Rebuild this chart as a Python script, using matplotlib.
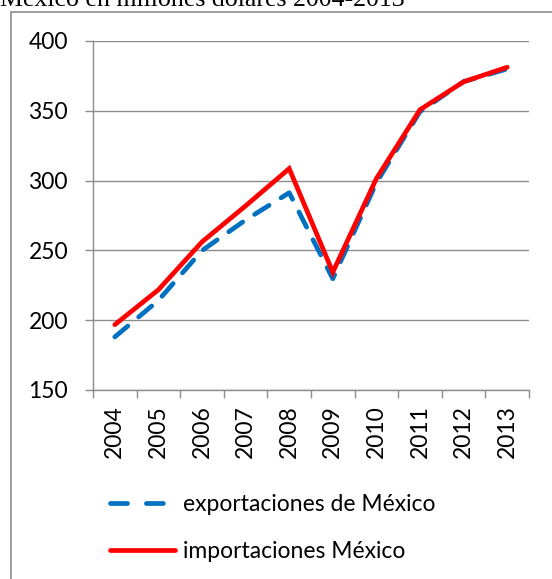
import matplotlib
matplotlib.use('Agg')
import matplotlib.pyplot as plt
from matplotlib.patches import Rectangle
from matplotlib.lines import Line2D

years = ['2004', '2005', '2006', '2007', '2008', '2009', '2010', '2011', '2012', '2013']
exportaciones = [188.0, 214.2, 249.9, 271.8, 291.3, 229.7, 298.5, 349.4, 370.9, 380.0]
importaciones = [196.8, 221.8, 256.1, 281.9, 308.6, 234.4, 301.5, 350.8, 370.8, 381.2]
labels = ['exportaciones de México', 'importaciones México']
title = 'México en millones dólares 2004-2013'

W, H = 552, 579
fig = plt.figure(figsize=(W/100, H/100), dpi=100)

# outer gray frame (cut at right/bottom)
fig.patches.append(Rectangle((11/W, -0.1), 1.2, 1 - 11.5/H + 0.1, transform=fig.transFigure,
                             fill=False, edgecolor='#8c8c8c', linewidth=1.2))

# title, partly cut off at the top
fig.text(0/W, 1 - 6/H, title, family='Liberation Serif', fontsize=18.6,
         ha='left', va='baseline')

ax = fig.add_axes([93/W, 1 - 390/H, (529-93)/W, (390-41)/H])
x = list(range(len(years)))
ax.plot(x, exportaciones, color='#0070C0', lw=3.4, dashes=(3.6, 3.0),
        dash_capstyle='round', solid_capstyle='round')
ax.plot(x, importaciones, color='#FF0000', lw=3.4, solid_capstyle='round',
        solid_joinstyle='miter')

ax.set_ylim(150, 400)
ax.set_xlim(-0.5, len(years) - 0.5)
ax.set_yticks([150, 200, 250, 300, 350, 400])
ax.set_xticks(x)
ax.set_xticklabels(years, rotation=90)
ax.set_xticks([i - 0.5 for i in range(len(years) + 1)], minor=True)
ax.tick_params(axis='x', which='major', length=0, pad=11, labelsize=16.5)
ax.tick_params(axis='x', which='minor', length=6, color='#8c8c8c', width=1)
ax.tick_params(axis='y', length=6, color='#8c8c8c', width=1, pad=12, labelsize=16.5)
for lab in ax.get_xticklabels() + ax.get_yticklabels():
    lab.set_family('Lato')
ax.grid(axis='y', color='#8c8c8c', lw=1)
ax.set_axisbelow(True)
for s in ['top', 'right']:
    ax.spines[s].set_visible(False)
for s in ['left', 'bottom']:
    ax.spines[s].set_color('#8c8c8c')
    ax.spines[s].set_linewidth(1)

# legend handles: two dashes for exports, like the reference
h_exp = Line2D([], [], color='#0070C0', lw=3.4, dashes=(3.6, 4.0), dash_capstyle='round')
h_imp = Line2D([], [], color='#FF0000', lw=3.4, solid_capstyle='round')
fig.legend([h_exp, h_imp], labels, loc='upper left', bbox_to_anchor=(110/W, 1 - 494/H),
           frameon=False, borderpad=0, borderaxespad=0,
           handlelength=2.85, handletextpad=0.35, labelspacing=1.15,
           prop={'family': 'Lato', 'size': 16.5})

fig.savefig('out.png', dpi=100)
